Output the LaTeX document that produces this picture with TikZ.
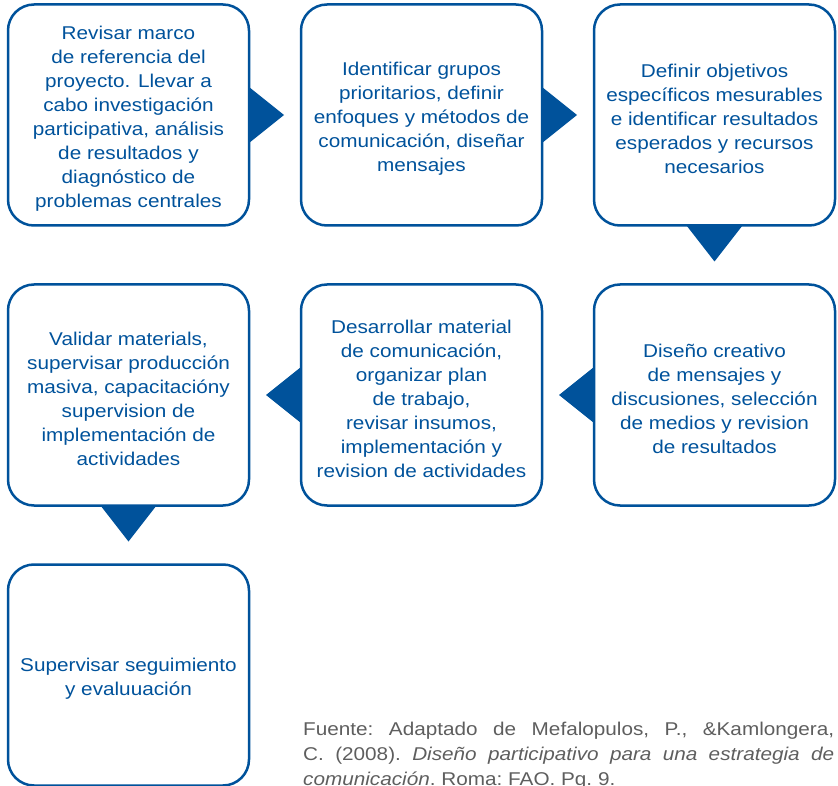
\documentclass[tikz,border=0pt]{standalone}
\usepackage{fontspec}
\setmainfont{Liberation Sans}[FakeStretch=1.12]
\usepackage{tikz}
\usetikzlibrary{positioning}
\definecolor{faoblue}{HTML}{00529B}
\definecolor{notegray}{HTML}{5E5E5E}
\newcommand{\padtop}{\rule{0pt}{21pt}}
\tikzstyle{stage} = [draw=faoblue, line width=2.5pt, rounded corners=26pt, minimum width=241pt, minimum height=221pt, outer sep=0pt, align=center, text=faoblue, font=\fontsize{18.5}{24}\selectfont]
\tikzstyle{pointer} = [fill=faoblue]
\tikzstyle{note} = [inner sep=0pt, text width=531pt, align=justify, text=notegray, font=\fontsize{18.5}{25}\selectfont\frenchspacing, anchor=north west]

\begin{document}
\begin{tikzpicture}[x=1pt, y=-1pt]
            \useasboundingbox (0,0) rectangle (838,786);
            \clip (0,0) rectangle (838,786);

            \node (box_1) [stage] at (128.5,115) {\padtop Revisar marco\\de referencia del\\proyecto. Llevar a\\cabo investigación\\participativa, análisis\\de resultados y\\diagnóstico de\\problemas centrales};
            \node (box_2) [stage, right=52pt of box_1] {\padtop Identificar grupos\\prioritarios, definir\\enfoques y métodos de\\comunicación, diseñar\\mensajes};
            \node (box_3) [stage, right=52pt of box_2] {\padtop Definir objetivos\\específicos mesurables\\e identificar resultados\\esperados y recursos\\necesarios};
            \node (box_6) [stage, below=59pt of box_3] {\padtop Diseño creativo\\de mensajes y\\discusiones, selección\\de medios y revision\\de resultados};
            \node (box_5) [stage, left=52pt of box_6] {\padtop Desarrollar material\\de comunicación,\\organizar plan\\de trabajo,\\revisar insumos,\\implementación y\\revision de actividades};
            \node (box_4) [stage, left=52pt of box_5] {\padtop Validar materials,\\supervisar producción\\masiva, capacitacióny\\supervision de\\implementación de\\actividades};
            \node (box_7) [stage, below=59pt of box_4] {\padtop Supervisar seguimiento\\y evaluuación};

            \fill [pointer] ([yshift=28pt]box_1.east) -- ([xshift=35pt]box_1.east) -- ([yshift=-28pt]box_1.east) -- cycle;
            \fill [pointer] ([yshift=28pt]box_2.east) -- ([xshift=35pt]box_2.east) -- ([yshift=-28pt]box_2.east) -- cycle;
            \fill [pointer] ([xshift=-28pt]box_3.south) -- ([yshift=-36pt]box_3.south) -- ([xshift=28pt]box_3.south) -- cycle;
            \fill [pointer] ([yshift=28pt]box_6.west) -- ([xshift=-35pt]box_6.west) -- ([yshift=-28pt]box_6.west) -- cycle;
            \fill [pointer] ([yshift=28pt]box_5.west) -- ([xshift=-35pt]box_5.west) -- ([yshift=-28pt]box_5.west) -- cycle;
            \fill [pointer] ([xshift=-28pt]box_4.south) -- ([yshift=-36pt]box_4.south) -- ([xshift=28pt]box_4.south) -- cycle;

            \node (source) [note] at (303,722) {Fuente: Adaptado de Mefalopulos, P., \&Kamlongera,\linebreak C. (2008). \textit{Diseño participativo para una estrategia de\linebreak comunicación}. Roma: FAO. Pg. 9.};
\end{tikzpicture}
\end{document}
